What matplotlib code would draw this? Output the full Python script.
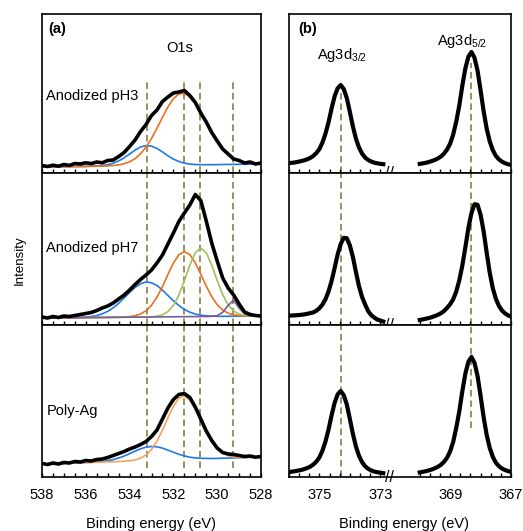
import numpy as np
import matplotlib.pyplot as plt
from matplotlib.ticker import MultipleLocator, FixedLocator

plt.rcParams['font.family'] = ['Liberation Sans', 'DejaVu Sans']
plt.rcParams['mathtext.fontset'] = 'custom'
plt.rcParams['mathtext.rm'] = 'Liberation Sans'

# ---------------- data ----------------
# O1s region, binding energy grid (eV), 538 -> 528
e_o1s = np.linspace(538, 528, 41)

o1s_names = ['Anodized pH3', 'Anodized pH7', 'Poly-Ag']

# measured O1s spectra (arb. units)
o1s_black = [
    [7.5, 6.5, 7.8, 6.8, 8.5, 7.6, 9.5, 9.0, 10.2, 9.4, 11.0, 10.2, 12.5, 13.0, 16.5, 20.5,
     26.5, 33.0, 41.5, 48.5, 57.5, 63.0, 71.5, 76.0, 80.0, 81.0, 82.5, 77.5, 70.5, 60.0,
     51.0, 40.5, 32.0, 24.0, 19.0, 14.0, 12.5, 10.0, 11.0, 9.0, 10.0],
    [8.0, 7.0, 8.5, 7.5, 9.0, 8.5, 9.5, 10.5, 11.5, 12.5, 14.5, 17.0, 19.0, 22.0, 26.0, 30.0,
     35.0, 40.5, 45.5, 50.0, 55.0, 62.0, 70.0, 81.0, 92.0, 103.5, 112.0, 120.0, 130.5, 124.5,
     104.0, 82.0, 64.0, 47.0, 37.0, 30.0, 21.0, 13.0, 10.5, 9.5, 9.0],
    [13.5, 12.5, 14.0, 13.0, 14.5, 14.0, 15.5, 15.0, 16.5, 16.0, 17.5, 18.0, 19.5, 21.5, 23.5,
     25.5, 28.0, 30.0, 32.5, 35.5, 40.5, 47.0, 58.0, 69.0, 77.5, 82.5, 83.5, 79.5, 70.0, 58.0,
     46.0, 36.5, 29.0, 24.5, 23.0, 22.5, 21.5, 20.5, 21.0, 19.8, 20.5],
]

# fitted components
pH3_orange = [6.0, 6.1, 6.2, 6.2, 6.3, 6.4, 6.5, 6.5, 6.6, 6.8, 6.9, 6.9, 7.1, 7.5, 8.1, 9.3,
              11.2, 14.4, 19.2, 25.9, 34.5, 44.8, 55.7, 66.0, 74.3, 79.1, 79.7, 76.1, 69.3,
              60.1, 49.9, 39.8, 30.9, 23.8, 18.3, 14.5, 12.1, 10.6, 9.8, 9.3, 9.2]
pH3_blue = [6.0, 6.1, 6.2, 6.2, 6.3, 6.4, 6.5, 6.5, 6.6, 6.8, 7.0, 7.4, 8.3, 9.8, 12.1, 15.2,
            19.0, 22.9, 26.0, 27.4, 26.9, 24.5, 21.1, 17.2, 13.9, 11.5, 9.9, 8.9, 8.5, 8.3,
            8.3, 8.3, 8.4, 8.5, 8.6, 8.6, 8.7, 8.8, 8.9, 8.9, 9.0]

pH7_blue = [7.0, 7.1, 7.1, 7.2, 7.2, 7.3, 7.4, 7.6, 7.9, 8.5, 9.5, 11.2, 13.6, 17.2, 21.7, 27.0,
            32.5, 37.6, 41.2, 43.0, 42.2, 39.5, 34.9, 29.6, 24.2, 19.5, 15.6, 12.8, 10.9, 9.8,
            9.2, 8.9, 8.7, 8.7, 8.7, 8.8, 8.8, 8.9, 8.9, 9.0, 9.0]
pH7_orange = [7.0, 7.1, 7.1, 7.2, 7.2, 7.3, 7.3, 7.4, 7.4, 7.5, 7.5, 7.6, 7.6, 7.7, 7.8, 8.0,
              8.4, 9.3, 11.0, 14.3, 19.7, 27.9, 38.4, 50.5, 61.9, 70.3, 73.3, 70.4, 62.1, 50.8,
              38.8, 28.4, 20.3, 15.0, 11.8, 10.2, 9.4, 9.1, 9.0, 9.0, 9.0]
pH7_green = [7.0, 7.1, 7.1, 7.2, 7.2, 7.3, 7.3, 7.4, 7.4, 7.5, 7.5, 7.6, 7.6, 7.7, 7.7, 7.8,
             7.8, 7.9, 7.9, 8.0, 8.2, 8.8, 10.1, 13.4, 19.6, 30.0, 44.2, 59.8, 72.2, 77.0,
             72.3, 60.0, 44.5, 30.4, 20.1, 14.0, 10.8, 9.6, 9.1, 9.0, 9.0]
pH7_purple = [7.0, 7.1, 7.1, 7.2, 7.2, 7.3, 7.3, 7.4, 7.4, 7.5, 7.5, 7.6, 7.6, 7.7, 7.7, 7.8,
              7.8, 7.9, 7.9, 8.0, 8.0, 8.1, 8.1, 8.2, 8.2, 8.3, 8.3, 8.4, 8.4, 8.5, 8.5, 8.7,
              9.4, 12.7, 19.7, 24.8, 16.8, 11.2, 9.2, 9.0, 9.0]

poly_blue = [13.0, 13.2, 13.4, 13.5, 13.7, 13.9, 14.1, 14.2, 14.5, 14.7, 15.1, 15.5, 16.3, 17.4,
             19.0, 20.9, 23.4, 25.9, 28.2, 29.8, 30.5, 30.2, 28.9, 26.9, 24.8, 22.7, 21.1,
             19.8, 19.1, 18.7, 18.6, 18.5, 18.6, 18.8, 19.0, 19.1, 19.3, 19.5, 19.7, 19.8, 20.0]
poly_orange = [13.0, 13.2, 13.4, 13.5, 13.7, 13.9, 14.1, 14.2, 14.4, 14.6, 14.8, 14.9, 15.1,
               15.3, 15.5, 15.8, 16.2, 17.1, 18.9, 22.0, 27.5, 35.8, 46.8, 59.2, 70.8, 78.8,
               81.1, 76.9, 68.0, 56.6, 45.1, 35.4, 28.3, 23.9, 21.4, 20.1, 19.7, 19.7, 19.7,
               19.8, 20.0]

o1s_components = [
    [(pH3_blue, '#1F78E8'), (pH3_orange, '#E8701E')],
    [(pH7_blue, '#1F78E8'), (pH7_orange, '#E8701E'), (pH7_green, '#9BC25A'), (pH7_purple, '#7A5C9A')],
    [(poly_blue, '#1F78E8'), (poly_orange, '#F4A25E')],
]
o1s_marks = [533.2, 531.5, 530.8, 529.3]
o1s_ticks = [538, 536, 534, 532, 530, 528]
o1s_tick_labels = ['538', '536', '534', '532', '530', '528']

# Ag3d region: two windows of the binding energy axis
e_ag_hi = np.linspace(376.0, 372.9, 32)
e_ag_lo = np.linspace(370.0, 367.0, 31)
ag_hi = [
    [9.8, 10.2, 10.6, 11.2, 11.9, 12.7, 13.7, 15.1, 17.1, 20.0, 24.0, 30.5, 39.4, 50.7, 64.5,
     76.7, 84.8, 88.0, 84.0, 75.0, 61.3, 46.7, 34.5, 25.6, 19.6, 15.5, 13.1, 11.5, 10.4, 9.7,
     9.2, 8.8],
    [9.4, 9.5, 9.7, 9.9, 10.2, 10.6, 11.2, 11.9, 12.6, 14.3, 16.8, 20.4, 25.8, 33.6, 44.0, 56.9,
     70.6, 80.9, 87.2, 86.8, 79.7, 68.1, 53.1, 39.0, 28.2, 20.8, 14.0, 10.0, 7.5, 5.5, 4.5, 3.5],
    [4.9, 5.4, 5.8, 6.4, 7.0, 7.9, 9.0, 10.4, 12.5, 15.4, 19.6, 26.4, 35.6, 47.4, 61.6, 74.2,
     82.6, 86.0, 81.8, 72.6, 58.3, 43.2, 30.6, 21.3, 15.0, 10.8, 8.3, 6.6, 5.5, 4.8, 4.3, 3.8],
]
ag_lo = [
    [9.1, 9.6, 10.2, 11.0, 12.0, 13.1, 14.6, 16.6, 19.5, 23.6, 29.4, 38.6, 51.4, 67.6, 87.4,
     104.8, 116.4, 121.0, 115.2, 102.4, 82.7, 61.8, 44.4, 31.7, 23.0, 17.2, 13.7, 11.4, 9.9,
     8.8, 8.1],
    [5.0, 5.6, 6.3, 7.0, 7.9, 9.0, 10.3, 11.8, 14.0, 17.2, 20.8, 25.8, 33.5, 44.7, 59.5, 77.8,
     97.2, 112.0, 120.8, 120.2, 110.2, 93.7, 72.4, 52.4, 37.0, 26.4, 19.3, 14.6, 11.7, 9.7, 8.4],
    [4.6, 5.2, 5.8, 6.6, 7.6, 8.8, 10.3, 12.3, 15.3, 19.4, 25.8, 35.2, 49.2, 65.7, 85.8, 103.5,
     115.3, 120.0, 114.1, 101.1, 81.1, 59.8, 42.1, 29.1, 20.3, 14.4, 10.9, 8.5, 7.0, 5.9, 5.2],
]
ag_marks = [374.3, 368.3]
ag_ticks = [375, 373, 369, 367]
ag_tick_labels = ['375', '373', '369', '367']

# vertical extent of the dashed guides in each row (same units as the spectra)
o1s_guide_span = [(0, 91), (0, 152), (9, 152)]
ag_guide_span = [[(0, 80), (0, 110)], [(0, 152), (0, 152)], [(0, 152), (49, 152)]]

# ---------------- broken axis for Ag3d ----------------
HI, LO, GAP = 372.9, 370.0, 1.2


def fwd(e):
    e = np.asarray(e, dtype=float)
    return np.where(e >= HI, e, np.where(e >= LO, HI - (HI - e) * GAP / (HI - LO), e + (HI - LO) - GAP))


def inv(u):
    u = np.asarray(u, dtype=float)
    return np.where(u >= HI, u, np.where(u >= HI - GAP, HI - (HI - u) * (HI - LO) / GAP, u - (HI - LO) + GAP))


# ---------------- figure ----------------
W, H = 523, 531
fig = plt.figure(figsize=(W / 100, H / 100), dpi=100)


def box(x0, y0, x1, y1):
    return [x0 / W, 1 - y1 / H, (x1 - x0) / W, (y1 - y0) / H]


rows = [(14, 173), (173, 325), (325, 477)]
dash_col = '#9A8F5E'
dash_ls = (0, (3.4, 2.0))
fs = 10.5

for i, (t, b) in enumerate(rows):
    last = i == len(rows) - 1

    # ---- O1s panel ----
    ax = fig.add_axes(box(42, t, 261, b))
    ax.set_xlim(538, 528)
    ax.set_ylim(0, b - t)
    ax.set_yticks([])
    y0, y1 = o1s_guide_span[i]
    ax.vlines(o1s_marks, y0, y1, colors=dash_col, linestyles=dash_ls, lw=1.4, zorder=1.5)
    for vals, col in o1s_components[i]:
        ax.plot(e_o1s, vals, color=col, lw=1.2, zorder=2)
    ax.plot(e_o1s, o1s_black[i], color='black', lw=2.6, zorder=3)
    ax.text(537.8, 77 if i < 2 else 66, o1s_names[i], fontsize=fs, va='center', ha='left')
    ax.set_xticks(o1s_ticks)
    ax.set_xticklabels(o1s_tick_labels if last else [])
    ax.xaxis.set_minor_locator(MultipleLocator(0.5))
    ax.tick_params(axis='x', which='both', direction='in', length=3, width=1,
                   top=False, labelsize=fs, pad=8)
    for s in ax.spines.values():
        s.set_linewidth(1.2)
    if i == 0:
        ax.text(0.027, 0.906, '(a)', transform=ax.transAxes, fontsize=10.5,
                fontweight='bold', va='center')
        ax.text(531.7, 125, 'O1s', fontsize=fs, ha='center', va='center')
    if last:
        ax.set_xlabel('Binding energy (eV)', fontsize=fs)
        ax.xaxis.set_label_coords(0.5, -0.26)

    # ---- Ag3d panel ----
    ax = fig.add_axes(box(289, t, 511, b))
    ax.set_xscale('function', functions=(fwd, inv))
    ax.set_xlim(376, 367)
    ax.set_ylim(0, b - t)
    ax.set_yticks([])
    for x, (y0, y1) in zip(ag_marks, ag_guide_span[i]):
        ax.vlines(x, y0, y1, colors=dash_col, linestyles=dash_ls, lw=1.4, zorder=1.5)
    ax.plot(e_ag_hi, ag_hi[i], color='black', lw=3.0, zorder=3)
    ax.plot(e_ag_lo, ag_lo[i], color='black', lw=3.0, zorder=3)
    ax.xaxis.set_major_locator(FixedLocator(ag_ticks))
    ax.xaxis.set_minor_locator(FixedLocator(np.r_[np.arange(367, 370.01, 1 / 3),
                                                  np.arange(373, 376.01, 1 / 3)]))
    ax.set_xticklabels(ag_tick_labels if last else [])
    ax.tick_params(axis='x', which='both', direction='in', length=3, width=1,
                   top=False, labelsize=fs, pad=8)
    for s in ax.spines.values():
        s.set_linewidth(1.2)
    ax.text(372.4, 0, '//', transform=ax.get_xaxis_transform(), fontsize=11.5,
            ha='center', va='center', zorder=5, clip_on=False)
    if i == 0:
        ax.text(0.04, 0.906, '(b)', transform=ax.transAxes, fontsize=10.5,
                fontweight='bold', va='center')
        ax.text(374.25, 114.5, r'Ag3d$_{\mathregular{3/2}}$', fontsize=fs,
                ha='center', va='baseline')
        ax.text(368.6, 128, r'Ag3d$_{\mathregular{5/2}}$', fontsize=fs,
                ha='center', va='baseline')
    if last:
        ax.set_xlabel('Binding energy (eV)', fontsize=fs)
        ax.xaxis.set_label_coords(0.52, -0.26)

fig.text(20 / W, 1 - 260 / H, 'Intensity', rotation=90, fontsize=9.5,
         ha='center', va='center')

fig.savefig('out.png', dpi=100)
